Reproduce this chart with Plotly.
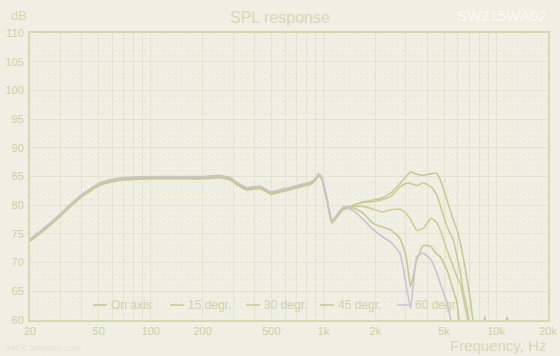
import plotly.graph_objects as go

freq = [20, 25, 30, 35, 40, 50, 60, 70, 80, 100, 150, 200, 250, 290, 315, 360, 430, 500, 560, 640,
        760, 840, 900, 940, 980, 1050, 1120, 1190, 1310, 1500, 1700, 1950, 2200, 2450, 2780, 3020,
        3200, 3480, 3800, 4200, 4500, 4750, 5200, 5650, 5950, 6200, 6500, 6800, 7100, 7500, 8000,
        8600, 9500, 10500, 11600, 13000, 15000, 20000]

base = [73.9, 76.2, 78.3, 80.2, 81.7, 83.6, 84.3, 84.6, 84.7, 84.8, 84.8, 84.8, 85.0, 84.6, 83.8,
        82.9, 83.1, 82.1, 82.5, 82.9, 83.5, 83.8, 84.5, 85.3, 84.7, 80.9, 77.1, 78.0, 79.5]

on_axis = base + [80.0, 80.6, 80.9, 81.3, 82.1, 83.8, 85.0, 85.8, 85.4, 85.2, 85.5, 85.6, 84.5,
                  80.9, 77.5, 75.7, 73.5, 70.5, 67.0, 63.5, 58.0, 55.0, 60.6, 54.0, 55.0, 60.5,
                  54.0, 52.0, 50.0]
deg15 = [v - 0.1 for v in base] + [80.0, 80.5, 80.6, 81.0, 81.5, 83.2, 83.8, 83.8, 83.4, 83.9,
                                   83.2, 82.0, 80.0, 76.3, 74.0, 71.0, 68.5, 64.6, 62.0, 57.0,
                                   54.0, 52.0, 50.0, 48.0, 47.0, 46.0, 45.0, 44.0]
deg30 = [v + 0.1 for v in base] + [79.8, 79.8, 79.3, 78.8, 79.2, 79.3, 78.6, 77.5, 75.6, 76.0,
                                   77.7, 77.1, 75.7, 72.2, 69.3, 67.5, 66.4, 63.5, 60.5, 57.0,
                                   53.0, 50.0, 50.0, 48.0, 47.0, 46.0, 45.0, 44.0, 43.0]
deg45 = [v - 0.2 for v in base] + [79.5, 78.6, 76.8, 76.2, 75.7, 74.2, 71.0, 65.8, 70.5, 73.0,
                                   72.8, 71.6, 71.0, 68.7, 65.2, 62.9, 58.0, 55.0, 52.0, 50.0,
                                   48.0, 46.0, 46.0, 45.0, 44.0, 43.0, 42.0, 41.0, 40.0]
deg60 = [v + 0.2 for v in base] + [79.0, 77.5, 75.7, 74.5, 73.6, 71.6, 66.0, 62.0, 71.0, 71.6,
                                   70.5, 68.5, 66.4, 63.0, 58.0, 55.0, 52.0, 50.0, 48.0, 46.0,
                                   45.0, 44.0, 44.0, 43.0, 42.0, 41.0, 40.0, 39.0, 38.0]

series_names = ["On axis", "15 degr.", "30 degr.", "45 degr.", "60 degr."]
series_values = [on_axis, deg15, deg30, deg45, deg60]
series_colors = ["#c6ca98", "#cacb94", "#d2cb92", "#c9c88e", "#c9c3d4"]

x_tickvals = [20, 30, 40, 50, 60, 70, 80, 90, 100, 200, 300, 400, 500, 600, 700, 800, 900,
              1000, 2000, 3000, 4000, 5000, 6000, 7000, 8000, 9000, 10000, 20000]
x_labels = {20: "20", 50: "50", 100: "100", 200: "200", 500: "500", 1000: "1k",
            2000: "2k", 5000: "5k", 10000: "10k", 20000: "20k"}
x_ticktext = [x_labels.get(v, "") for v in x_tickvals]
y_tickvals = list(range(60, 111, 5))

fig = go.Figure()
for name, vals, col in zip(series_names, series_values, series_colors):
    fig.add_trace(go.Scatter(x=freq, y=vals, mode="lines", name=name, showlegend=False,
                             line=dict(color=col, width=1.6, shape="spline", smoothing=0.45)))

bg = "#efefe3"
axis_col = "#d5d8b0"
tick_col = "#cdd1a6"

L, R, T, B = 30, 12, 33, 36
W, H = 560, 356
pw, ph = W - L - R, H - T - B

def px_x(px):
    return (px - L) / pw

def px_y(py):
    return (H - B - py) / ph

annotations = [
    dict(text="SPL response", x=px_x(280), y=px_y(17), xanchor="center",
         font=dict(size=16, color="#d6d9b6")),
    dict(text="SW215WA02", x=px_x(548), y=px_y(15), xanchor="right",
         font=dict(size=15, color="#fafaf3")),
    dict(text="dB", x=px_x(19), y=px_y(15), xanchor="center",
         font=dict(size=13, color="#d3d6ae")),
    dict(text="Frequency, Hz", x=px_x(548), y=px_y(345), xanchor="right",
         font=dict(size=15, color="#d6d9b6")),
    dict(text="HiFiCompass.com", x=px_x(5), y=px_y(348), xanchor="left",
         font=dict(size=9, color="#e4e5d2")),
]

# legend drawn as short line samples plus text labels (one row inside the plot)
legend_starts = [93, 170, 246, 320, 397]
legend_y = 305
shapes = []
for name, col, sx in zip(series_names, series_colors, legend_starts):
    shapes.append(dict(type="line", xref="paper", yref="paper",
                       x0=px_x(sx), x1=px_x(sx + 14), y0=px_y(legend_y), y1=px_y(legend_y),
                       line=dict(color=col, width=1.6)))
    annotations.append(dict(text=name, x=px_x(sx + 16), y=px_y(legend_y), xanchor="left",
                            font=dict(size=12, color="#d0d3aa")))

fig.update_layout(
    width=W, height=H,
    margin=dict(l=L, r=R, t=T, b=B, autoexpand=False),
    paper_bgcolor=bg, plot_bgcolor=bg,
    font=dict(family="Arial, Liberation Sans, sans-serif", color=tick_col, size=11),
    showlegend=False,
    xaxis=dict(type="log", range=[1.30103, 4.30103], tickvals=x_tickvals, ticktext=x_ticktext,
               showgrid=True, gridcolor="#e3e4d0", gridwidth=1, zeroline=False,
               showline=True, linecolor=axis_col, linewidth=2, mirror=True, automargin=False,
               ticks="", tickfont=dict(size=11, color=tick_col)),
    yaxis=dict(range=[60, 110], tickvals=y_tickvals, showgrid=True, gridcolor="#e3e4d0",
               gridwidth=1, zeroline=False, showline=True, linecolor=axis_col, linewidth=2,
               mirror=True, ticks="", automargin=False, ticklabelstandoff=2,
               tickfont=dict(size=11, color=tick_col),
               minor=dict(dtick=1, showgrid=True, gridcolor="#e8e9d8", griddash="dot")),
    annotations=annotations,
    shapes=shapes,
)
for a in fig.layout.annotations:
    a.update(xref="paper", yref="paper", showarrow=False, yanchor="middle")

fig.write_html("out.html")
